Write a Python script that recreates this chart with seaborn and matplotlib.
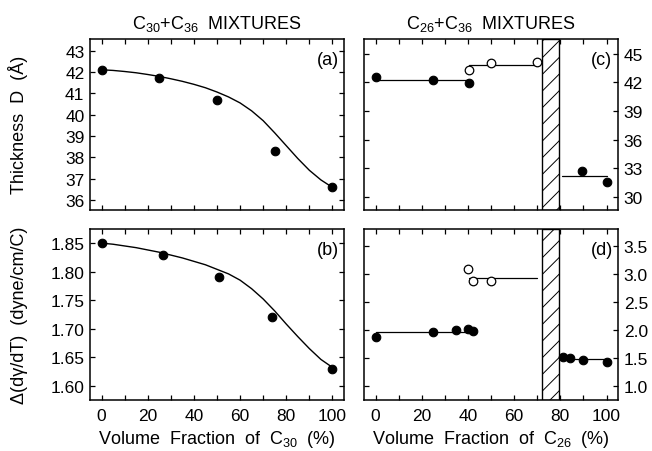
import numpy as np
import pandas as pd
import matplotlib
matplotlib.use("Agg")
import matplotlib.pyplot as plt
from matplotlib.ticker import MultipleLocator, FormatStrFormatter
import seaborn as sns

# ── Data ────────────────────────────────────────────────────────────────────
# (a) thickness, C30+C36
x_a = [0, 25, 50, 75, 100]
thick_a = [42.1, 41.7, 40.7, 38.3, 36.6]
fit_x = [0, 5, 10, 15, 20, 25, 30, 35, 40, 45, 50,
         55, 60, 65, 70, 75, 80, 85, 90, 95, 100]
fit_a = [42.10, 42.07, 42.02, 41.96, 41.88, 41.79, 41.68, 41.56, 41.42, 41.26, 41.06,
         40.83, 40.55, 40.18, 39.72, 39.15, 38.55, 37.95, 37.40, 36.95, 36.60]

# (b) d(gamma)/dT, C30+C36
x_b = [0, 26.5, 51, 74, 100]
slope_b = [1.85, 1.83, 1.79, 1.72, 1.63]
fit_b = [1.850, 1.848, 1.845, 1.842, 1.838, 1.834, 1.829, 1.824, 1.818, 1.812, 1.804,
         1.796, 1.785, 1.770, 1.752, 1.731, 1.708, 1.686, 1.665, 1.646, 1.632]

# (c) thickness, C26+C36
x_c_fill = [0, 25, 40.5, 89.5, 100]
thick_c_fill = [42.6, 42.3, 41.95, 32.7, 31.6]
x_c_open = [40.5, 50, 70]
thick_c_open = [43.35, 44.05, 44.1]
c_lines = [(0, 40.5, 42.3), (40.5, 70, 43.85), (80.5, 100, 32.2)]

# (d) d(gamma)/dT, C26+C36
x_d_fill = [0, 25, 35, 40, 42, 81, 84, 90, 100]
slope_d_fill = [1.86, 1.96, 1.99, 2.01, 1.97, 1.52, 1.50, 1.46, 1.42]
x_d_open = [40, 42, 50]
slope_d_open = [3.09, 2.86, 2.86]
d_lines = [(0, 42, 1.96), (40.5, 70, 2.92), (81, 100, 1.47)]

# two-phase gap (hatched)
gap = (72, 79.5)

# ── Style ───────────────────────────────────────────────────────────────────
sns.set_style("ticks")
plt.rcParams["font.family"] = ["Liberation Sans", "DejaVu Sans"]
plt.rcParams.update({
    "text.color": "black", "axes.labelcolor": "black",
    "xtick.color": "black", "ytick.color": "black",
    "xtick.direction": "in", "ytick.direction": "in",
    "xtick.top": True, "ytick.right": True,
    "xtick.major.size": 3.5, "ytick.major.size": 3.5,
    "xtick.minor.size": 3.5, "xtick.major.width": 0.9, "ytick.major.width": 0.9,
    "xtick.minor.width": 0.9,
    "axes.linewidth": 1.1, "axes.edgecolor": "black",
    "xtick.labelsize": 12.5, "ytick.labelsize": 12.5,
    "xtick.major.pad": 6, "ytick.major.pad": 4,
    "hatch.linewidth": 0.7,
})

fig, axes = plt.subplots(2, 2, figsize=(6.52, 4.52), dpi=100)
fig.subplots_adjust(left=0.138, right=0.948, top=0.912, bottom=0.113,
                    wspace=0.079, hspace=0.111)
ax_a, ax_c = axes[0]
ax_b, ax_d = axes[1]

dot = dict(color="black", s=38, edgecolor="black", linewidth=0.8, legend=False, zorder=3)
ring = dict(color="white", s=38, edgecolor="black", linewidth=0.9, legend=False, zorder=3)

# (a)
sns.lineplot(x=fit_x, y=fit_a, ax=ax_a, color="black", lw=1.0)
sns.scatterplot(x=x_a, y=thick_a, ax=ax_a, **dot)
ax_a.set_ylim(35.55, 43.55)
ax_a.yaxis.set_major_locator(MultipleLocator(1))

# (b)
sns.lineplot(x=fit_x, y=fit_b, ax=ax_b, color="black", lw=1.0)
sns.scatterplot(x=x_b, y=slope_b, ax=ax_b, **dot)
ax_b.set_ylim(1.575, 1.875)
ax_b.yaxis.set_major_locator(MultipleLocator(0.05))
ax_b.yaxis.set_major_formatter(FormatStrFormatter("%.2f"))

# (c) and (d)
for ax, lines, xf, yf, xo, yo in [
        (ax_c, c_lines, x_c_fill, thick_c_fill, x_c_open, thick_c_open),
        (ax_d, d_lines, x_d_fill, slope_d_fill, x_d_open, slope_d_open)]:
    for x0, x1, yv in lines:
        sns.lineplot(x=[x0, x1], y=[yv, yv], ax=ax, color="black", lw=0.9)
    sns.scatterplot(x=xf, y=yf, ax=ax, **dot)
    sns.scatterplot(x=xo, y=yo, ax=ax, **ring)
    ax.axvspan(gap[0], gap[1], facecolor="white", edgecolor="black",
               hatch="//", linewidth=1.0, zorder=2)
    ax.yaxis.tick_right()
    ax.yaxis.set_ticks_position("both")
    ax.tick_params(axis="y", labelleft=False, labelright=True)

ax_c.set_ylim(28.67, 46.57)
ax_c.yaxis.set_major_locator(MultipleLocator(3))
ax_d.set_ylim(0.745, 3.80)
ax_d.yaxis.set_major_locator(MultipleLocator(0.5))
ax_d.yaxis.set_major_formatter(FormatStrFormatter("%.1f"))

for ax in axes.flat:
    ax.set_xlim(-5, 105)
    ax.xaxis.set_major_locator(MultipleLocator(20))
    ax.xaxis.set_minor_locator(MultipleLocator(10))
    ax.tick_params(which="both", top=True, bottom=True, colors="black")
    ax.set_xlabel("")
    ax.set_ylabel("")
for ax in axes[0]:
    ax.tick_params(axis="x", labelbottom=False)

# panel letters
for ax, lab in [(ax_a, "(a)"), (ax_b, "(b)"), (ax_c, "(c)"), (ax_d, "(d)")]:
    ax.text(0.935, 0.88, lab, transform=ax.transAxes, ha="center", va="center",
            fontsize=13)

# titles and labels
ax_a.set_title(r"C$\mathregular{_{30}}$+C$\mathregular{_{36}}$  MIXTURES", fontsize=13, pad=8)
ax_c.set_title(r"C$\mathregular{_{26}}$+C$\mathregular{_{36}}$  MIXTURES", fontsize=13, pad=8)
ax_a.set_ylabel("Thickness  D  (Å)", fontsize=13)
ax_b.set_ylabel("Δ(dγ/dT)  (dyne/cm/C)", fontsize=13)
for ax in (ax_a, ax_b):
    ax.yaxis.set_label_coords(-0.245, 0.5)
ax_b.set_xlabel(r"Volume  Fraction  of  C$\mathregular{_{30}}$  (%)", fontsize=13, labelpad=3.5)
ax_d.set_xlabel(r"Volume  Fraction  of  C$\mathregular{_{26}}$  (%)", fontsize=13, labelpad=3.5)

plt.savefig("out.png", dpi=100)
plt.close()
